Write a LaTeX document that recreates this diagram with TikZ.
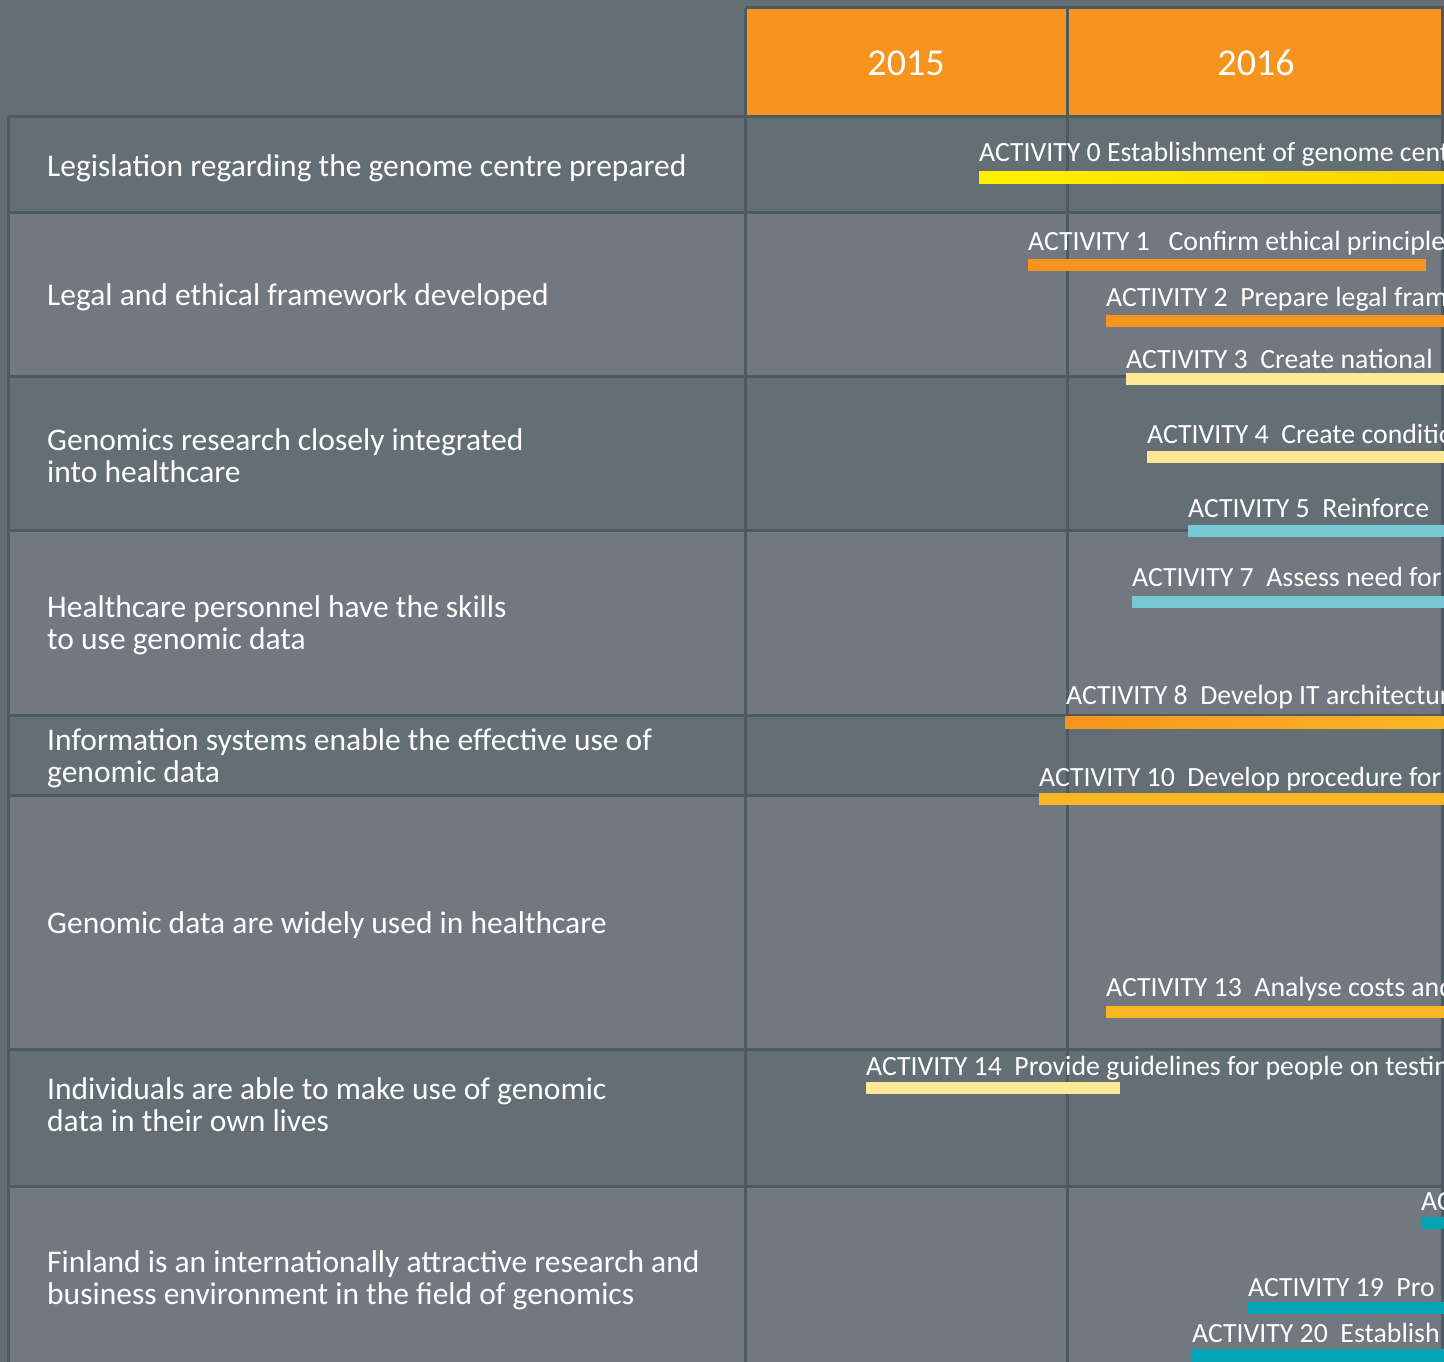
\documentclass[tikz,border=0pt]{standalone}
\usepackage{fontspec}
\setmainfont{Carlito}
\usetikzlibrary{calc}

\definecolor{slatedark}{HTML}{636E75}
\definecolor{slatelight}{HTML}{71787F}
\definecolor{gridgrey}{HTML}{4E5A61}
\definecolor{headorange}{HTML}{F7941D}
\definecolor{barorange}{HTML}{F7941D}
\definecolor{baramber}{HTML}{FBB626}
\definecolor{barpale}{HTML}{FFE896}
\definecolor{barsky}{HTML}{77C8D3}
\definecolor{barteal}{HTML}{00A4B5}
\definecolor{baryellow}{HTML}{FFF200}
\definecolor{bargold}{HTML}{FCD200}

\tikzset{
  goal/.style={anchor=west, text=white, align=left, inner sep=0pt,
    font=\fontsize{31.5}{32}\selectfont},
  act/.style={anchor=west, text=white, inner sep=0pt,
    font=\fontsize{27.8}{28}\selectfont},
  year/.style={text=white, inner sep=0pt, font=\fontsize{38}{40}\selectfont},
  gridline/.style={draw=gridgrey, line width=3pt},
}

\begin{document}
\begin{tikzpicture}[x=1pt, y=-1pt]

\useasboundingbox (0,0) rectangle (1444,1362);
\clip (0,0) rectangle (1444,1362);

% Background and row bands
\fill[slatedark] (0,0) rectangle (1444,1362);
\fill[slatelight] (8,212) rectangle (1444,376);
\fill[slatelight] (8,530) rectangle (1444,715);
\fill[slatelight] (8,795) rectangle (1444,1049);
\fill[slatelight] (8,1186) rectangle (1444,1362);

% Year header
\fill[headorange] (745,8) rectangle (1444,117);
\node[year] (y15) at (906,63) {2015};
\node[year] (y16) at (1256,63) {2016};

% Grid lines
\draw[gridline] (745,8) -- (1444,8);
\draw[gridline] (745,8) -- (745,1362);
\draw[gridline] (1067,8) -- (1067,1362);
\draw[gridline] (1442,8) -- (1442,1362);
\draw[gridline] (8,117) -- (8,1362);
\draw[gridline] (8,117) -- (1444,117);
\draw[gridline] (8,212) -- (1444,212);
\draw[gridline] (8,376) -- (1444,376);
\draw[gridline] (8,530) -- (1444,530);
\draw[gridline] (8,715) -- (1444,715);
\draw[gridline] (8,795) -- (1444,795);
\draw[gridline] (8,1049) -- (1444,1049);
\draw[gridline] (8,1186) -- (1444,1186);

% Goals
\node[goal] (g1) at (47,168) {Legislation regarding the genome centre prepared};
\node[goal] (g2) at (47,297) {Legal and ethical framework developed};
\node[goal] (g3) at (47,456) {Genomics research closely integrated\\into healthcare};
\node[goal] (g4) at (47,625) {Healthcare personnel have the skills\\to use genomic data};
\node[goal] (g5) at (47,758) {Information systems enable the effective use of\\genomic data};
\node[goal] (g6) at (47,925) {Genomic data are widely used in healthcare};
\node[goal] (g7) at (47,1105) {Individuals are able to make use of genomic\\data in their own lives};
\node[goal] (g8) at (47,1280) {Finland is an internationally attractive research and\\business environment in the field of genomics};

% Activities
\node[act] (a0) at (979,154) {ACTIVITY 0 Establishment of genome centre};
\shade[left color=baryellow, right color=bargold] (979,172) rectangle (1444,184);

\node[act] (a1) at (1028,243) {ACTIVITY 1 \ \ Confirm ethical principles};
\fill[barorange] (1028,259) rectangle (1426,271);

\node[act] (a2) at (1106,299) {ACTIVITY 2 \ Prepare legal framework};
\fill[barorange] (1106,315) rectangle (1444,327);

\node[act] (a3) at (1126,359) {ACTIVITY 3 \ Create national};
\fill[barpale] (1126,373) rectangle (1444,385);

\node[act] (a4) at (1147,434) {ACTIVITY 4 \ Create conditions};
\fill[barpale] (1147,451) rectangle (1444,463);

\node[act] (a5) at (1188,508) {ACTIVITY 5 \ Reinforce};
\fill[barsky] (1188,525) rectangle (1444,537);

\node[act] (a7) at (1132,577) {ACTIVITY 7 \ Assess need for};
\fill[barsky] (1132,596) rectangle (1444,608);

\node[act] (a8) at (1066,697) {ACTIVITY 8 \ Develop IT architecture};
\shade[left color=barorange, right color=baramber] (1065,716) rectangle (1444,728);

\node[act] (a10) at (1039,779) {ACTIVITY 10 \ Develop procedure for};
\fill[baramber] (1039,793) rectangle (1444,805);

\node[act] (a13) at (1106,989) {ACTIVITY 13 \ Analyse costs and};
\fill[baramber] (1106,1006) rectangle (1444,1018);

\node[act] (a14) at (866,1068) {ACTIVITY 14 \ Provide guidelines for people on testing};
\fill[barpale] (866,1082) rectangle (1120,1094);

\node[act] (a18) at (1421,1202) {ACTIVITY};
\fill[barteal] (1421,1217) rectangle (1444,1229);

\node[act] (a19) at (1248,1288) {ACTIVITY 19 \ Pro};
\fill[barteal] (1248,1302) rectangle (1444,1314);

\node[act] (a20) at (1192,1333) {ACTIVITY 20 \ Establish};
\fill[barteal] (1192,1349) rectangle (1444,1362);

\end{tikzpicture}
\end{document}
